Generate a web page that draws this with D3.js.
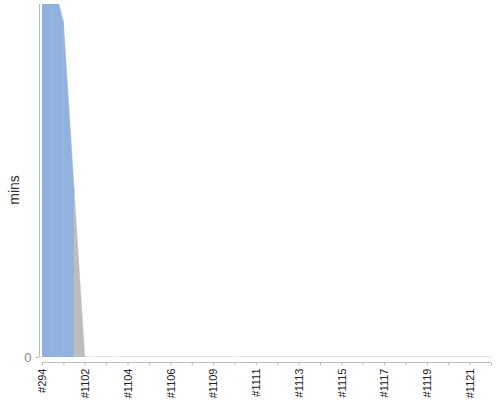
<!DOCTYPE html>
<html>
<head>
<meta charset="utf-8">
<script src="https://cdn.jsdelivr.net/npm/d3@7"></script>
<style>
  body { margin: 0; background: #fff; }
  svg { display: block; font-family: "Liberation Sans", Arial, sans-serif; }
</style>
</head>
<body>
<div id="chart"></div>
<script>
// build labels (x axis)
var builds = ["#294", "#1101", "#1102", "#1103", "#1104", "#1105", "#1106", "#1108",
  "#1109", "#1110", "#1111", "#1112", "#1113", "#1114", "#1115", "#1116",
  "#1117", "#1118", "#1119", "#1120", "#1121", "#1122"];
// durations in mins, null = no value for that status
var success = [0.95, 0.76, null, null, null, null, null, null, null, null, null,
  null, null, null, null, null, null, null, null, null, null, null];
var aborted = [null, null, 0, 0, 0, 0, 0, 0, 0, 0, 0,
  0, 0, 0, 0, 0, 0, 0, 0, 0, 0, 0];
var yTicks = [0];
var yMax = 0.8;

var width = 500, height = 400;
var plotLeft = 42, plotRight = 491, plotTop = 4, plotBottom = 357;

var svg = d3.select("#chart").append("svg")
  .attr("width", width).attr("height", height);

var x = d3.scalePoint().domain(builds).range([plotLeft, plotRight]);
var y = d3.scaleLinear().domain([0, yMax]).range([plotBottom, plotTop]);

svg.append("clipPath").attr("id", "plotclip")
  .append("rect").attr("x", plotLeft).attr("y", plotTop)
  .attr("width", plotRight - plotLeft).attr("height", plotBottom - plotTop);

var series = [
  { name: "success", values: success, color: "#90b2dd" },
  { name: "aborted", values: aborted, color: "#bdbdbd" }
];

// stacked bases and tops
var n = builds.length;
var base = [], tops = [];
series.forEach(function (s, si) {
  base[si] = [];
  tops[si] = [];
  for (var c = 0; c < n; c++) {
    var b = si == 0 ? 0 : tops[si - 1][c];
    base[si][c] = b;
    tops[si][c] = b + (s.values[c] == null ? 0 : s.values[c]);
  }
});

// each value draws two half areas, out to the middle of its neighbours
var polys = [];
series.forEach(function (s, si) {
  for (var c = 0; c < n; c++) {
    if (s.values[c] == null) continue;
    var xc = x(builds[c]);
    [-1, 1].forEach(function (d) {
      var o = c + d;
      if (o < 0 || o >= n) return;
      var xm = (xc + x(builds[o])) / 2;
      polys.push({
        color: s.color,
        pts: [[xm, y((tops[si][o] + tops[si][c]) / 2)], [xc, y(tops[si][c])],
              [xc, y(base[si][c])], [xm, y(base[si][c])]]
      });
    });
  }
});

var line = d3.line();
svg.append("g").attr("clip-path", "url(#plotclip)")
  .selectAll("path").data(polys).enter()
  .append("path")
    .attr("d", function (p) { return line(p.pts) + "Z"; })
    .attr("fill", function (p) { return p.color; })
    .attr("stroke", function (p) { return p.color; })
    .attr("stroke-width", 0.5);

// y axis
var yAxis = svg.append("g").attr("transform", "translate(39.5,0)")
  .call(d3.axisLeft(y).tickValues(yTicks).tickFormat(d3.format("d"))
    .tickSize(4).tickPadding(4));
yAxis.select(".domain").attr("d", "M0," + plotTop + "V" + plotBottom).attr("stroke", "#bbb");
yAxis.selectAll(".tick line").attr("stroke", "#bbb");
yAxis.selectAll(".tick text").attr("fill", "#888")
  .style("font-family", "Liberation Sans, Arial, sans-serif").style("font-size", "13px");

svg.append("text")
  .attr("transform", "translate(19,190) rotate(-90)")
  .attr("text-anchor", "middle")
  .style("font-size", "14px")
  .attr("fill", "#333")
  .text("mins");

// x axis
var xAxis = svg.append("g").attr("transform", "translate(0,362.5)")
  .call(d3.axisBottom(x).tickSize(3).tickSizeOuter(0)
    .tickFormat(function (d, i) { return i % 2 == 0 ? d : ""; }));
xAxis.select(".domain").attr("d", "M" + plotLeft + ",0H" + plotRight).attr("stroke", "#bbb");
xAxis.selectAll(".tick line").attr("stroke", "#bbb");
xAxis.selectAll(".tick text")
  .attr("transform", "rotate(-90)")
  .attr("text-anchor", "end")
  .attr("x", -6).attr("y", 0).attr("dy", "0.35em")
  .attr("fill", "#222")
  .style("font-family", "Liberation Sans, Arial, sans-serif").style("font-size", "11px");
</script>
</body>
</html>
